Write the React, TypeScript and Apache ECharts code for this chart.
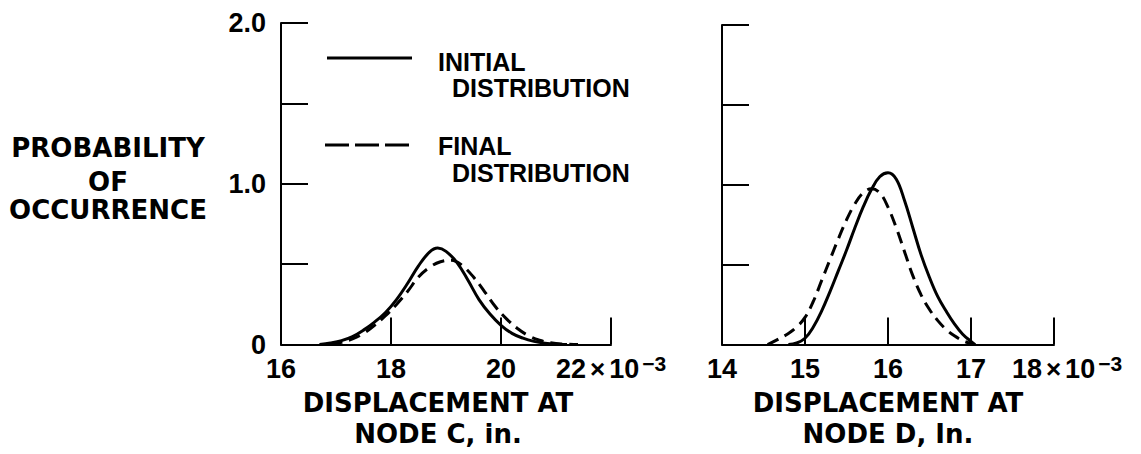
import React, { useEffect, useRef } from "react";
import * as echarts from "echarts";

// Node C (left panel), displacement ×10^-3 in.
const cInitialX = [16.7, 16.9, 17.1, 17.3, 17.5, 17.7, 17.9, 18.1, 18.3, 18.5, 18.7, 18.85, 19.0, 19.2, 19.4, 19.6, 19.8, 20.0, 20.2, 20.4, 20.6, 20.8, 21.0, 21.2];
const cInitialY = [0, 0.01, 0.025, 0.05, 0.09, 0.14, 0.2, 0.28, 0.38, 0.49, 0.575, 0.6, 0.58, 0.51, 0.4, 0.28, 0.19, 0.12, 0.07, 0.04, 0.02, 0.008, 0.002, 0];
const cFinalX = [16.9, 17.1, 17.3, 17.5, 17.7, 17.9, 18.1, 18.3, 18.5, 18.7, 18.9, 19.1, 19.3, 19.5, 19.7, 19.9, 20.1, 20.3, 20.5, 20.7, 20.9, 21.1, 21.4];
const cFinalY = [0, 0.015, 0.035, 0.07, 0.12, 0.18, 0.25, 0.33, 0.42, 0.48, 0.515, 0.525, 0.49, 0.42, 0.33, 0.235, 0.16, 0.1, 0.055, 0.027, 0.012, 0.004, 0];

// Node D (right panel)
const dInitialX = [14.8, 14.9, 15.0, 15.1, 15.2, 15.3, 15.4, 15.5, 15.6, 15.7, 15.8, 15.9, 16.0, 16.1, 16.2, 16.3, 16.4, 16.5, 16.6, 16.7, 16.8, 16.9, 17.0, 17.05];
const dInitialY = [0, 0.01, 0.04, 0.11, 0.21, 0.33, 0.46, 0.59, 0.73, 0.86, 0.97, 1.05, 1.075, 1.035, 0.9, 0.73, 0.56, 0.42, 0.3, 0.21, 0.13, 0.065, 0.02, 0];
const dFinalX = [14.55, 14.7, 14.8, 14.9, 15.0, 15.1, 15.2, 15.3, 15.4, 15.5, 15.6, 15.7, 15.8, 15.9, 16.0, 16.1, 16.2, 16.3, 16.4, 16.5, 16.6, 16.7, 16.8, 16.9, 17.0];
const dFinalY = [0, 0.04, 0.07, 0.11, 0.17, 0.27, 0.4, 0.53, 0.66, 0.78, 0.88, 0.95, 0.975, 0.95, 0.86, 0.73, 0.58, 0.43, 0.31, 0.22, 0.15, 0.095, 0.055, 0.025, 0.005];

const yLabels: Record<string, string> = { "0": "0", "1": "1.0", "2": "2.0" };
const seriesNames = ["INITIAL DISTRIBUTION", "FINAL DISTRIBUTION"];

const pairs = (xs: number[], ys: number[]) => xs.map((x, i) => [x, ys[i]]);

const LAB_FONT = "'Liberation Sans', Arial, sans-serif";
const TITLE_FONT = "'DejaVu Sans', sans-serif";

export default function App() {
  const ref = useRef<HTMLDivElement>(null);
  useEffect(() => {
    if (!ref.current) return;
    const chart = echarts.init(ref.current, null, { renderer: "svg" });
    const black = "#000";
    const axisLine = { show: true, onZero: false, lineStyle: { color: black, width: 2 } };
    const axisTick = { show: true, inside: true, length: 27, lineStyle: { color: black, width: 2 } };
    const rich = {
      n: { fontSize: 27, fontWeight: "bold", fontFamily: LAB_FONT, color: black, lineHeight: 32 },
      x: { fontSize: 26, fontFamily: LAB_FONT, color: black, lineHeight: 32, padding: [0, 4, 0, 4] },
      s: { fontSize: 21, fontWeight: "bold", fontFamily: LAB_FONT, color: black, verticalAlign: "top", lineHeight: 20, padding: [0, 0, 0, 3] },
      p: { width: 26, lineHeight: 32 },
    };
    const xLabel = (maxV: number, shift: boolean) => ({
      margin: 8,
      fontSize: 27,
      fontWeight: "bold",
      fontFamily: LAB_FONT,
      color: black,
      showMinLabel: true,
      showMaxLabel: true,
      formatter: (v: number) =>
        v === maxV ? `${shift ? "{p|}" : ""}{n|${v}}{x|×}{n|10}{s|−3}` : `{n|${v}}`,
      rich,
    });
    const xName = (txt: string, gap: number, pad: number[]) => ({
      name: txt,
      nameLocation: "middle",
      nameGap: gap,
      nameTextStyle: { fontSize: 26, fontWeight: "bold", fontFamily: TITLE_FONT, color: black, lineHeight: 31, padding: pad },
    });
    const lineS = (name: string, data: number[][], idx: number, dashed: boolean) => ({
      type: "line",
      name,
      xAxisIndex: idx,
      yAxisIndex: idx,
      data,
      smooth: 0.4,
      symbol: "none",
      lineStyle: { color: black, width: 3, type: dashed ? [12, 7] : "solid" },
    });

    chart.setOption({
      animation: false,
      backgroundColor: "#fff",
      grid: [
        { left: 281, top: 23, width: 330, height: 329, containLabel: false },
        { left: 722, top: 25, width: 332, height: 331, containLabel: false },
      ],
      xAxis: [
        {
          type: "value", gridIndex: 0, min: 16, max: 22, interval: 2,
          axisLine, axisTick, splitLine: { show: false },
          axisLabel: xLabel(22, false),
          ...xName("DISPLACEMENT AT\nNODE C, in.", 37, [0, 16, 0, 0]),
        },
        {
          type: "value", gridIndex: 1, min: 14, max: 18, interval: 1,
          axisLine, axisTick, splitLine: { show: false },
          axisLabel: xLabel(18, true),
          ...xName("DISPLACEMENT AT\nNODE D, In.", 35, [0, 0, 0, 0]),
        },
      ],
      yAxis: [
        {
          type: "value", gridIndex: 0, min: 0, max: 2, interval: 0.5,
          axisLine, axisTick, splitLine: { show: false },
          axisLabel: {
            margin: 15, fontSize: 27, fontWeight: "bold", fontFamily: LAB_FONT, color: black,
            formatter: (v: number) => yLabels[String(v)] ?? "",
          },
        },
        {
          type: "value", gridIndex: 1, min: 0, max: 2, interval: 0.5,
          axisLine, axisTick, splitLine: { show: false },
          axisLabel: { show: false },
        },
      ],
      series: [
        lineS(seriesNames[0], pairs(cInitialX, cInitialY), 0, false),
        lineS(seriesNames[1], pairs(cFinalX, cFinalY), 0, true),
        lineS(seriesNames[0], pairs(dInitialX, dInitialY), 1, false),
        lineS(seriesNames[1], pairs(dFinalX, dFinalY), 1, true),
      ],
      graphic: [
        // y-axis title
        ...["PROBABILITY", "OF", "OCCURRENCE"].map((t, i) => ({
          type: "text",
          x: 108,
          y: [148, 182, 210][i],
          style: { text: t, fontSize: 26, fontWeight: "bold", fontFamily: TITLE_FONT, fill: black, align: "center", verticalAlign: "middle" },
        })),
        // legend
        { type: "line", shape: { x1: 327, y1: 58, x2: 412, y2: 58 }, style: { stroke: black, lineWidth: 3 } },
        { type: "line", shape: { x1: 325, y1: 145, x2: 410, y2: 145 }, style: { stroke: black, lineWidth: 3, lineDash: [24, 6] } },
        ...[
          ["INITIAL", 438, 62],
          ["DISTRIBUTION", 452, 88],
          ["FINAL", 438, 146],
          ["DISTRIBUTION", 452, 173],
        ].map(([t, x, y]) => ({
          type: "text",
          x: x as number,
          y: y as number,
          style: { text: t as string, fontSize: 25, fontWeight: "bold", fontFamily: LAB_FONT, fill: black, align: "left", verticalAlign: "middle" },
        })),
      ],
    });
    return () => chart.dispose();
  }, []);
  return (
    <div
      ref={ref}
      style={{ position: "fixed", left: 0, top: 0, width: 1141, height: 454, background: "#fff" }}
    />
  );
}
